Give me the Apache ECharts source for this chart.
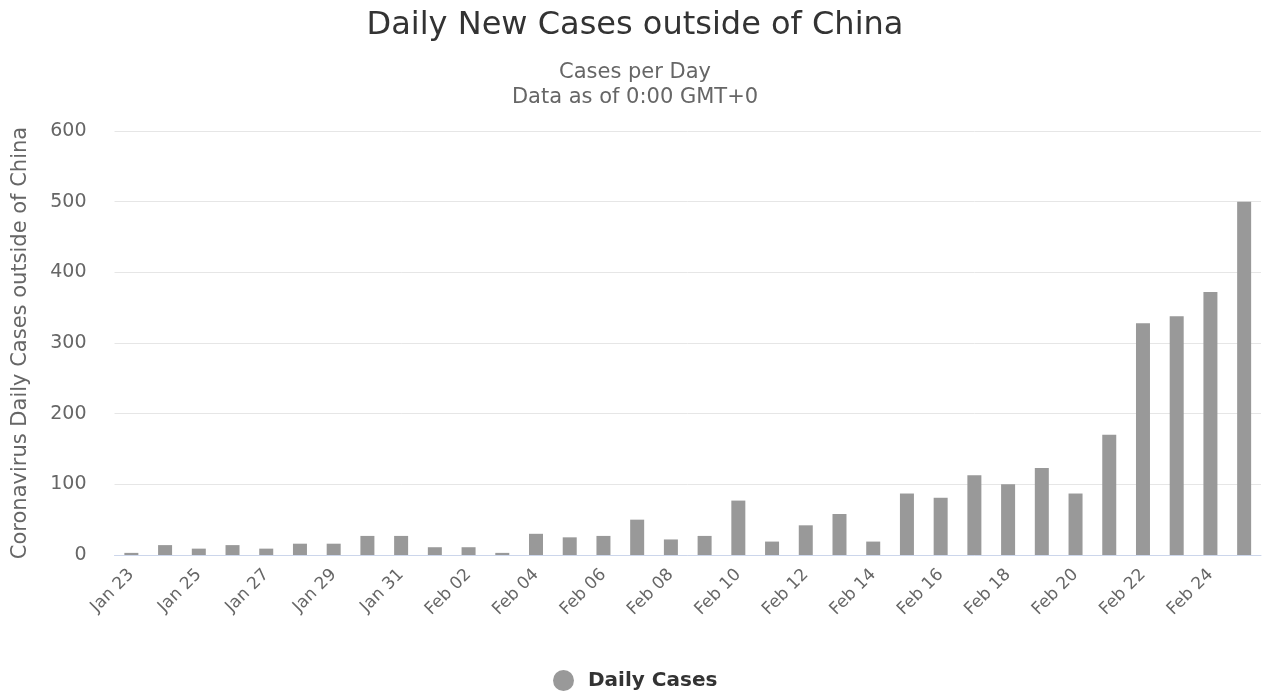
<!DOCTYPE html>
<html>
<head>
<meta charset="utf-8">
<script src="https://cdn.jsdelivr.net/npm/echarts@6/dist/echarts.min.js"></script>
<style>html,body{margin:0;padding:0;background:#fff}#c{width:1262px;height:692px}</style>
</head>
<body>
<div id="c"></div>
<script>
const categories = ["Jan 23","Jan 24","Jan 25","Jan 26","Jan 27","Jan 28","Jan 29","Jan 30","Jan 31",
  "Feb 01","Feb 02","Feb 03","Feb 04","Feb 05","Feb 06","Feb 07","Feb 08","Feb 09","Feb 10",
  "Feb 11","Feb 12","Feb 13","Feb 14","Feb 15","Feb 16","Feb 17","Feb 18","Feb 19","Feb 20",
  "Feb 21","Feb 22","Feb 23","Feb 24","Feb 25"];
const dailyCases = [3,14,9,14,9,16,16,27,27,11,11,3,30,25,27,50,22,27,77,19,42,58,19,87,81,113,100,123,87,170,328,338,372,500];
const yTicks = [0,100,200,300,400,500,600];

const FONT = '"DejaVu Sans", "Noto Sans", sans-serif';
const chart = echarts.init(document.getElementById('c'));
chart.setOption({
  animation: false,
  title: [
    {text: 'Daily New Cases outside of China', left: 630, textAlign: 'center', top: 5,
     textStyle: {fontFamily: FONT, fontSize: 32, fontWeight: 'normal', color: '#333333'}},
    {text: 'Cases per Day', left: 630, textAlign: 'center', top: 57,
     textStyle: {fontFamily: FONT, fontSize: 21, fontWeight: 'normal', color: '#666666'}},
    {text: 'Data as of 0:00 GMT+0', left: 630, textAlign: 'center', top: 82,
     textStyle: {fontFamily: FONT, fontSize: 21, fontWeight: 'normal', color: '#666666'}}
  ],
  legend: {
    top: 665, left: 548, icon: 'circle', itemWidth: 21, itemHeight: 21, itemGap: 10,
    textStyle: {fontFamily: FONT, fontSize: 20, fontWeight: 'bold', color: '#333333', padding: [0, 0, 0, 9]},
    data: ['Daily Cases']
  },
  grid: {left: 114.5, right: 1, top: 131, bottom: 137, containLabel: false},
  xAxis: {
    type: 'category', data: categories,
    axisLine: {lineStyle: {color: '#ccd6eb', width: 1}},
    axisTick: {show: false},
    axisLabel: {interval: 1, rotate: 45, fontFamily: FONT, fontSize: 17, color: '#666666', margin: 17}
  },
  yAxis: {
    type: 'value', min: yTicks[0], max: yTicks[yTicks.length-1], interval: 100,
    name: 'Coronavirus Daily Cases outside of China', nameLocation: 'middle', nameGap: 83, nameRotate: 90,
    nameTextStyle: {fontFamily: FONT, fontSize: 21, color: '#666666'},
    axisLine: {show: false}, axisTick: {show: false},
    axisLabel: {fontFamily: FONT, fontSize: 19, color: '#666666', margin: 28, padding: [7, 0, 0, 0]},
    splitLine: {lineStyle: {color: '#e6e6e6', width: 1}}
  },
  series: [{
    name: 'Daily Cases', type: 'bar', data: dailyCases,
    barWidth: 14,
    itemStyle: {color: '#999999'}
  }]
});
</script>
</body>
</html>
